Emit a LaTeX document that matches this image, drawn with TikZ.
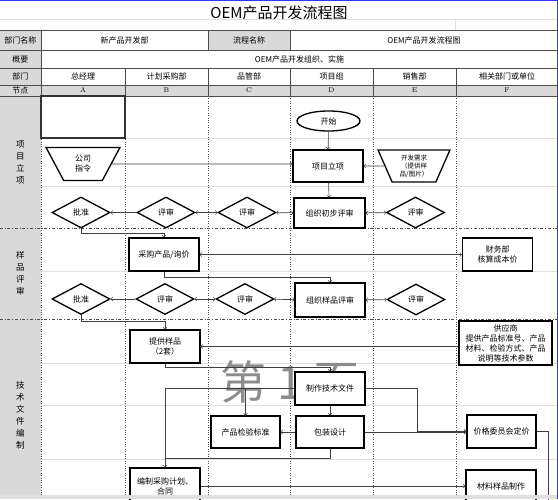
\documentclass[tikz,border=0pt]{standalone}
\usepackage{fontspec}
\newfontfamily\cjk{Noto Sans CJK SC}
\usepackage{tikz}
\usetikzlibrary{shapes.geometric}

\begin{document}
\begin{tikzpicture}[x=1pt, y=-1pt,
    every node/.style={font=\cjk\fontsize{8}{10}\selectfont, inner sep=1pt, align=center},
    hdr/.style={fill=black!15},
    task/.style={draw, line width=1.3pt, fill=white, minimum width=70pt, minimum height=33pt},
    check/.style={diamond, draw, line width=1.3pt, fill=white, minimum width=58pt, minimum height=31pt, inner sep=0pt},
    trap/.style={trapezium, draw, line width=1.3pt, fill=white, trapezium stretches=true, shape border rotate=180,
        trapezium left angle=67, trapezium right angle=67, minimum width=74pt, minimum height=33pt, inner sep=0pt},
    lane/.style={font=\cjk\fontsize{8.5}{12}\selectfont},
    link/.style={black!75, line width=0.6pt}]
    \useasboundingbox (0,0) rectangle (558,499);
    \clip (0,0) rectangle (558,499);

    % Sheet
    \node[font=\cjk\fontsize{15}{16}\selectfont] (title) at (279,13) {OEM产品开发流程图};
    \draw[black!12] (0,19) -- (558,19) (455,19) -- (455,30);
    \fill[hdr] (0,30) rectangle (41,96);
    \fill[hdr] (208,30) rectangle (290,50);
    \fill[hdr] (41,85) rectangle (558,96);
    \fill[hdr] (0,96) rectangle (41,495);
    \foreach \y in {30,50,68,85,96}
        \draw[black!70] (0,\y) -- (558,\y);
    \draw[black!70] (41,30) -- (41,96) (208,30) -- (208,50) (290,30) -- (290,50);
    \foreach \x in {125,208,290,373,456}
        \draw[black!70] (\x,68) -- (\x,96);

    \node (bmmc) at (20.5,40) {部门名称};
    \node (bmval) at (124.5,40) {新产品开发部};
    \node (lcmc) at (249,40) {流程名称};
    \node (lcval) at (424,40) {OEM产品开发流程图};
    \node (gaiyao) at (20.5,59) {概要};
    \node (gyval) at (299.5,59) {OEM产品开发组织、实施};
    \node (bumen) at (20.5,76.5) {部门};
    \node (jiedian) at (20.5,90.5) {节点};
    \foreach \letter/\x in {A/83,B/166.5,C/249,D/331.5,E/414.5,F/507}
        \node[font=\rmfamily\fontsize{7}{8}\selectfont] (col\letter) at (\x,90.5) {\letter};
    \node (zjl) at (83,76.5) {总经理};
    \node (cgb) at (166.5,76.5) {计划采购部};
    \node (pgb) at (249,76.5) {品管部};
    \node (xmz) at (331.5,76.5) {项目组};
    \node (xsb) at (414.5,76.5) {销售部};
    \node (xgdw) at (507,76.5) {相关部门或单位};

    % Grid
    \foreach \x in {41,125,208,290,373,456}
        \draw[dotted, black!70] (\x,96) -- (\x,495);
    \foreach \y in {138,186,271,363,405,459}
        \draw[black!12] (41,\y) -- (558,\y);
    \foreach \y in {228,319}
        \draw[dash dot, black!70] (0,\y) -- (558,\y);
    \draw[line width=1.5pt, black!80] (41,96) rectangle (125,138);

    \node[lane] (lane1) at (20.5,162) {项\\目\\立\\项};
    \node[lane] (lane2) at (20.5,273) {样\\品\\评\\审};
    \node[lane] (lane3) at (20.5,415) {技\\术\\文\\件\\编\\制};
    \node[text=black!45, font=\cjk\fontsize{46}{46}\selectfont] (yema) at (290,382) {第 1 页};

    % Nodes
    \node[ellipse, draw, line width=1.3pt, fill=white, minimum width=63pt, minimum height=20pt, inner sep=0pt] (kaishi) at (328.5,121) {开始};
    \node[task, minimum height=32pt] (lixiang) at (328,166) {项目立项};
    \node[task, minimum width=71pt, minimum height=30pt] (chubu) at (329.5,213) {组织初步评审};
    \node[trap] (zhiling) at (83,164) {公司\\指令};
    \node[trap, minimum width=72pt, minimum height=32pt, trapezium left angle=68, trapezium right angle=68,
        font=\cjk\fontsize{6.5}{8}\selectfont] (xuqiu) at (414,166) {开发需求\\（提供样\\品/图片）};
    \node[check] (pizhun1) at (81,212.5) {批准};
    \node[check] (pingshenb1) at (166,212.5) {评审};
    \node[check] (pingshenc1) at (247,212.5) {评审};
    \node[check] (pingshene1) at (415.5,212.5) {评审};

    \node[task] (caigou) at (164,254.5) {采购产品/询价};
    \node[task] (caiwu) at (497.5,254.5) {财务部\\核算成本价};
    \node[check] (pizhun2) at (81,299) {批准};
    \node[check] (pingshenb2) at (165,299) {评审};
    \node[check] (pingshenc2) at (245,299) {评审};
    \node[task, minimum height=34pt] (yangpin) at (330,300) {组织样品评审};
    \node[check] (pingshene2) at (416,299.5) {评审};

    \node[task] (tigong) at (165,346.5) {提供样品\\（2套）};
    \node[task, minimum width=93pt, minimum height=44pt] (gongying) at (505.5,343) {供应商\\提供产品标准号、产品\\材料、检验方式、产品\\说明等技术参数};
    \node[task] (jishu) at (330,388.5) {制作技术文件};
    \node[task, minimum width=68pt, minimum height=32pt] (baozhuang) at (330,432) {包装设计};
    \node[task, minimum width=69pt, minimum height=32pt] (jianyan) at (245.5,432) {产品检验标准};
    \node[task, minimum height=36pt] (jihua) at (165,486) {编制采购计划、\\合同};
    \node[task, minimum width=69pt] (jiage) at (501.5,431.5) {价格委员会定价};
    \node[task, minimum width=70pt, minimum height=32pt] (cailiao) at (501,486) {材料样品制作};

    % Lines
    \draw[link, ->] (kaishi) -- (lixiang);
    \draw[link, ->] (lixiang) -- (chubu);
    \draw[link, ->] (xuqiu) -- (lixiang);
    \draw[link, ->] (zhiling) -- (zhiling -| lixiang.west);
    \draw[link, ->] (pingshenb1) -- (pizhun1);
    \draw[link, <->] (pingshenb1) -- (pingshenc1);
    \draw[link, <->] (pingshenc1) -- (chubu);
    \draw[link, <->] (chubu) -- (pingshene1);
    \draw[link, ->] (pizhun1.south) -- ++(0,5) -| (caigou.north);

    \draw[link, <->] (caigou) -- (caiwu);
    \draw[link, ->] (caigou.south) -- ++(0,6) -| (yangpin.north);
    \draw[link, ->] (pingshenb2) -- (pizhun2);
    \draw[link, <->] (pingshenb2) -- (pingshenc2);
    \draw[link, <->] (pingshenc2) -- (yangpin);
    \draw[link, <->] (yangpin) -- (pingshene2);
    \draw[link, ->] (pizhun2.south) -- ++(0,6) -| (tigong.north);

    \draw[link, ->] (tigong -| gongying.west) -- (tigong);
    \draw[link, ->] (tigong.south) -- ++(0,4) -| (jishu.north);
    \draw[link, ->] (jishu) -- (baozhuang);
    \draw[link, ->] (baozhuang) -- (jianyan);
    \draw[link, ->] (jishu.west) -| (jihua.north);
    \draw[link, ->] (jianyan.north |- jishu.west) -- (jianyan.north);
    \draw[link] (baozhuang.south) -- ++(0,10) coordinate (bz) -- (bz -| jihua.north);
    \draw[link, ->] (jishu.east) -- ++(51.5,0) |- (jiage.west);
    \draw[link, ->] (baozhuang) -- (baozhuang -| jiage.west);
    \draw[link, ->] (jihua) -- (jihua -| cailiao.west);
    \draw[link] (jiage.east) -- ++(12,0) coordinate (jg) -- (jg |- cailiao.south);

    % Window
    \fill[black!12] (0,495) rectangle (558,499);
    \draw[blue!80, line width=1pt] (0,0.5) -- (557.5,0.5) -- (557.5,499);
\end{tikzpicture}
\end{document}
